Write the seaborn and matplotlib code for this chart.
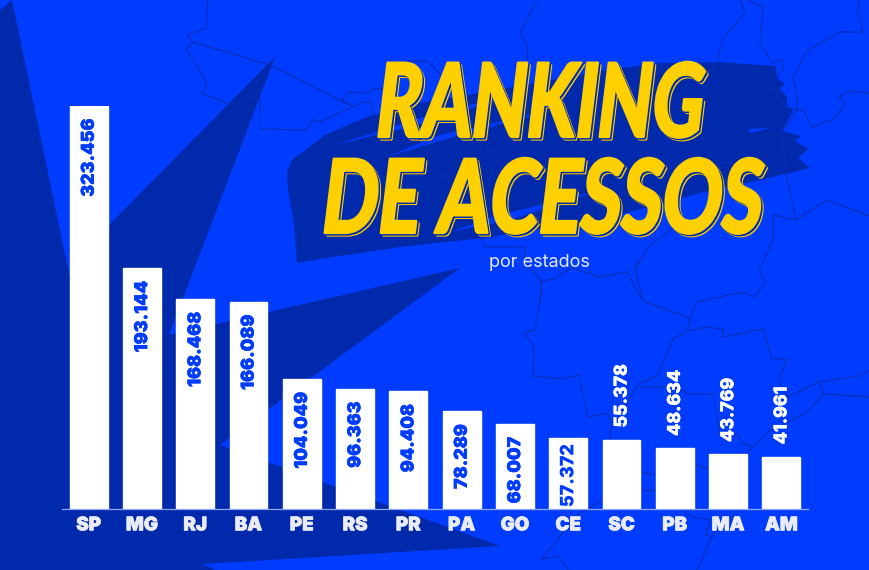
"""Ranking de acessos por estados - bar chart over a decorated blue background."""

import matplotlib

matplotlib.use("Agg")
import matplotlib.pyplot as plt
import matplotlib.patheffects as pe
import pandas as pd
import seaborn as sns
from matplotlib.colors import to_rgb
from matplotlib.patches import Polygon
from matplotlib.patheffects import AbstractPathEffect
from matplotlib.transforms import Affine2D

estados = ["SP", "MG", "RJ", "BA", "PE", "RS", "PR", "PA", "GO", "CE", "SC", "PB", "MA", "AM"]
acessos = [323456, 193144, 168468, 166089, 104049, 96363, 94408, 78289, 68007, 57372, 55378, 48634, 43769, 41961]
rotulos = ["323.456", "193.144", "168.468", "166.089", "104.049", "96.363", "94.408",
           "78.289", "68.007", "57.372", "55.378", "48.634", "43.769", "41.961"]
n_dentro = 10  # first ten labels sit inside the bars

AZUL = "#003cff"
ESCURO = "#0029ab"
LINHA = "#0a2eb4"
AMARELO = "#ffd000"

# background decoration, in pixels of the 870x570 picture
estilhacos = [(0, 10), (12, 0), (70, 278), (108, 226), (275, 57), (169, 335), (460, 268), (220, 445),
              (500, 546), (203, 564), (215, 570), (0, 570)]
pincel = [(297, 263), (294, 225), (288, 190), (287, 172), (292, 160), (325, 135), (367, 117), (420, 103),
          (480, 93), (607, 70), (660, 63), (717, 62), (776, 66), (777, 78), (785, 84), (780, 89), (787, 97),
          (787, 106), (793, 111), (782, 131), (801, 136), (795, 141), (808, 149), (798, 158), (810, 168),
          (760, 180), (700, 193), (600, 220), (483, 238), (400, 247), (320, 259)]
fendas = [[(335, 145), (420, 118), (520, 92), (430, 122)],
          [(386, 157), (440, 135), (560, 108), (450, 138)],
          [(749, 129), (770, 128), (750, 133)],
          [(450, 232), (500, 215), (600, 190), (510, 220)]]
mapa = [
    [(208, 0), (206, 28), (187, 35), (193, 42), (273, 66), (352, 106), (342, 100), (348, 92), (367, 93),
     (372, 89), (383, 89), (395, 62), (427, 61), (450, 85)],
    [(193, 43), (186, 48), (207, 83), (202, 93), (228, 104), (260, 96), (260, 129), (306, 130), (313, 119),
     (320, 122), (363, 102), (371, 102), (375, 125), (370, 133), (388, 155), (447, 177), (480, 227),
     (485, 247), (525, 247), (525, 263), (542, 281), (540, 300)],
    [(537, 0), (520, 33), (528, 47), (527, 63), (487, 147), (503, 158)],
    [(542, 281), (553, 279), (572, 268), (600, 277), (627, 272), (643, 301), (635, 268), (638, 260)],
    [(643, 301), (690, 318), (697, 302), (742, 292), (754, 297), (765, 283), (759, 270), (773, 240), (773, 215),
     (796, 220), (827, 200), (870, 216)],
    [(540, 281), (542, 288), (535, 330), (524, 333), (534, 346), (533, 376), (562, 379), (579, 375), (588, 417),
     (607, 413), (613, 423), (609, 440)],
    [(690, 318), (687, 331), (673, 339), (657, 376), (640, 383), (628, 400), (615, 423)],
    [(640, 387), (673, 387), (690, 394), (713, 394), (720, 435), (739, 435), (740, 442), (753, 447)],
    [(687, 331), (706, 327), (723, 329), (723, 337), (763, 329), (772, 359), (786, 359), (779, 382), (787, 397),
     (819, 382), (858, 376), (870, 370)],
    [(819, 382), (824, 394), (870, 397)],
    [(824, 394), (806, 413), (787, 423), (770, 430), (747, 453)],
    [(640, 472), (655, 475)], [(640, 489), (655, 491)], [(693, 464), (708, 469)],
    [(601, 501), (577, 515), (542, 559), (558, 556), (568, 570)],
    [(682, 510), (692, 517), (710, 520), (706, 535), (712, 537), (697, 570)],
    [(735, 510), (732, 520), (717, 530), (712, 537)],
    [(740, 0), (745, 13), (723, 38), (717, 63), (707, 87)],
    [(747, 0), (763, 7), (760, 43), (772, 63), (782, 59), (783, 68), (771, 86), (787, 108), (804, 110), (811, 127),
     (834, 119), (846, 103), (839, 97), (850, 91), (870, 93)],
    [(860, 0), (857, 10), (863, 32), (841, 32), (807, 50), (793, 80), (797, 93), (797, 110), (782, 132), (785, 170),
     (796, 220)],
    [(688, 107), (688, 157), (785, 171)],
    [(675, 227), (648, 247), (635, 270)],
]


class Letreiro(AbstractPathEffect):
    """Stretches, slants and fattens glyphs, since no installed font has the poster's proportions."""

    def __init__(self, sx, sy, inclinar=0, dx=0, dy=0, cor=None, traco=0):
        self.forma = Affine2D().scale(sx, sy).skew_deg(inclinar, 0)
        self.dx, self.dy = dx, dy
        self.cor = to_rgb(cor) if cor else None
        self.traco = traco

    def draw_path(self, renderer, gc, tpath, affine, rgbFace=None):
        t = self.forma + affine + Affine2D().translate(self.dx, self.dy)
        face = self.cor or rgbFace
        gc0 = renderer.new_gc()
        gc0.copy_properties(gc)
        gc0.set_linewidth(self.traco)
        gc0.set_foreground(face)
        renderer.draw_path(gc0, tpath, t, face)
        gc0.restore()


sns.set_theme(style="white")
fig = plt.figure(figsize=(8.7, 5.7), dpi=100, facecolor=AZUL)

fundo = fig.add_axes([0, 0, 1, 1])
fundo.set_xlim(0, 870)
fundo.set_ylim(570, 0)
fundo.axis("off")
fundo.add_patch(Polygon(estilhacos, color=ESCURO, lw=0))
fundo.add_patch(Polygon(pincel, color=ESCURO, lw=0))
for fenda in fendas:
    fundo.add_patch(Polygon(fenda, color=AZUL, lw=0))
for trecho in mapa:
    fundo.plot(*zip(*trecho), color=LINHA, lw=0.8)

for texto, x, y, tam, sx, sy in [("RANKING", 373, 137, 60, 0.85, 1.23), ("DE ACESSOS", 319, 233, 59, 0.90, 1.25)]:
    fundo.text(x, y, texto, fontsize=tam, family="Lato", weight="black", color=AMARELO, ha="left", va="baseline",
               path_effects=[Letreiro(sx, sy, 7, 2.5, -2.5, traco=1.6), Letreiro(sx, sy, 7, 1.5, -1.5, ESCURO, traco=1.6),
                             Letreiro(sx, sy, 7, traco=1.6)])
fundo.text(539.5, 267, "por estados", fontsize=13, family="Inter", color="#e4eaff", ha="center", va="baseline")

df = pd.DataFrame({"estado": estados, "acessos": acessos})
ax = fig.add_axes([62 / 870, (570 - 509) / 570, 746 / 870, 403 / 570])
ax.patch.set_alpha(0)
sns.barplot(data=df, x="estado", y="acessos", color="white", saturation=1, width=0.71, ax=ax)
ax.set_xlim(-0.5, len(estados) - 0.5)
ax.set_ylim(0, max(acessos))
ax.set_xlabel("")
ax.set_ylabel("")
ax.set_yticks([])
sns.despine(ax=ax, left=True)
ax.spines["bottom"].set_color("#8ea6ff")
ax.spines["bottom"].set_linewidth(0.9)
ax.tick_params(axis="x", length=0, pad=6, labelsize=13.5, labelcolor="#e9ecf5")
for lab in ax.get_xticklabels():
    lab.set_family("Inter")
    lab.set_weight("black")
    lab.set_path_effects([pe.withStroke(linewidth=0.5, foreground="#e9ecf5")])

for i, (valor, rotulo) in enumerate(zip(acessos, rotulos)):
    dentro = i < n_dentro
    cor = AZUL if dentro else "white"
    efeito = [pe.withStroke(linewidth=0.3, foreground=cor)]
    if estados[i] == "CE":
        # this label is squeezed to fit its short bar in the original
        efeito = [Letreiro(1.0, 1.05, dy=6)]
    ax.annotate(rotulo, (i, valor), xytext=(0.5, -9 if dentro else 9), textcoords="offset points",
                rotation=90, ha="center", va="top" if dentro else "bottom", fontsize=12.8, family="Inter",
                weight="black" if dentro else "heavy", color=cor, annotation_clip=False, path_effects=efeito)

fig.savefig("out.png", dpi=100, facecolor=AZUL)
